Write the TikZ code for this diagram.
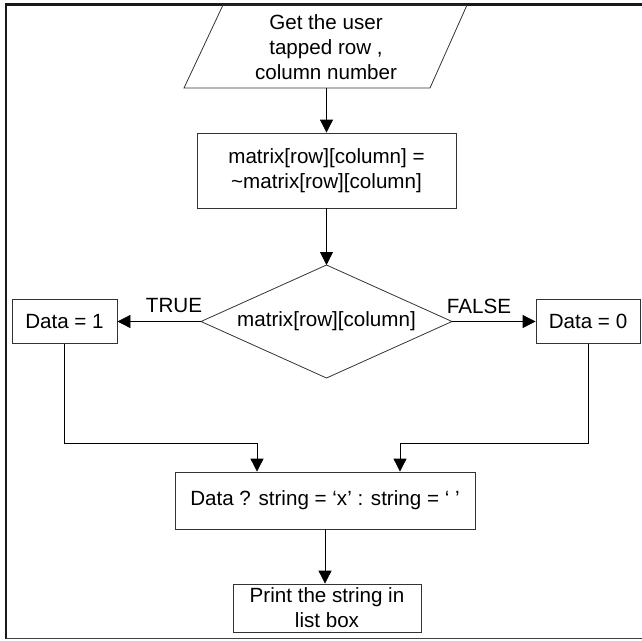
\documentclass[tikz,border=0pt]{standalone}
\usepackage{fontspec}
\setmainfont{Liberation Sans}
\usetikzlibrary{arrows.meta}
\begin{document}
\begin{tikzpicture}[x=1pt,y=-1pt,
  every node/.style={font=\fontsize{20.6}{25}\selectfont},
  boxn/.style={draw=black!80, line width=0.8pt, rectangle, inner sep=0pt, align=center},
  shp/.style={draw=black!80, line width=0.8pt},
  arr/.style={draw=black, line width=0.8pt, -{Triangle[length=13pt,width=13pt]}},
  lbl/.style={inner sep=0pt}]
\useasboundingbox (0,0) rectangle (642,640);
% frame
\draw[line width=2.5pt, black!90] (642,4.5) -- (6,4.5) -- (6,639);
\draw[line width=1.2pt, black!75] (6,638.5) -- (642,638.5);
% parallelogram (input)
\draw[shp] (223,5) -- (467,5) -- (430,88) -- (184,88) -- cycle;
\node[lbl, align=center] (inp) at (326,47) {Get the user\\tapped row ,\\column number};
\coordinate (inpb) at (326.5,88);
% assignment box
\node[boxn, minimum width=259pt, minimum height=75pt] (asg) at (326.5,170.5) {matrix[row][column] =\\\textasciitilde matrix[row][column]};
% decision diamond
\coordinate (dT) at (326.5,265);
\coordinate (dB) at (326.5,378);
\coordinate (dL) at (201,321.5);
\coordinate (dR) at (452,321.5);
\draw[shp] (dT) -- (dR) -- (dB) -- (dL) -- cycle;
\node[lbl] (dec) at (326.5,321.5) {matrix[row][column]};
% data boxes
\node[boxn, minimum width=105pt, minimum height=44pt] (d1) at (64.5,321.5) {Data = 1};
\node[boxn, minimum width=104pt, minimum height=44pt] (d0) at (588,321.5) {Data = 0};
% string box
\node[boxn, minimum width=300pt, minimum height=57pt] (str) at (325,500.5) {Data ? string = ‘x’ : string = ‘ ’};
% print box
\node[boxn, minimum width=188pt, minimum height=48pt] (prt) at (327,608) {Print the string in\\list box};
% labels
\node[lbl] (tl) at (174,306) {TRUE};
\node[lbl] (fl) at (479,306) {FALSE};
% connectors
\coordinate (c1) at (257,443);
\coordinate (c2) at (400,443);
\draw[arr] (inpb) -- (asg.north);
\draw[arr] (asg.south) -- (dT);
\draw[arr] (dL) -- (d1.east);
\draw[arr] (dR) -- (d0.west);
\draw[arr] (d1.south) |- (c1) -- (c1 |- str.north);
\draw[arr] (d0.south) |- (c2) -- (c2 |- str.north);
\draw[arr] (str.south) -- (str.south |- prt.north);
\end{tikzpicture}
\end{document}
